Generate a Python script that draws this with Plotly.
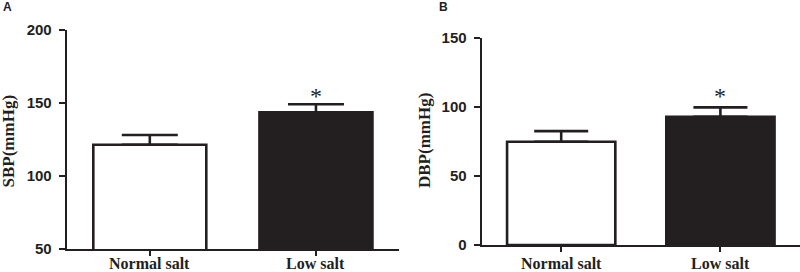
import plotly.graph_objects as go

categories = ["Normal salt", "Low salt"]
sbp_mean = [121.4, 143.6]
sbp_err = [6.7, 5.5]
dbp_mean = [74.7, 92.8]
dbp_err = [7.7, 6.8]
sbp_ticks = [50, 100, 150, 200]
dbp_ticks = [0, 50, 100, 150]
star_sbp = 157.5
star_dbp = 109.0

INK = "#231f20"
bar_colors = ["white", INK]

fig = go.Figure()
fig.add_trace(go.Bar(
    x=categories, y=sbp_mean, width=0.68,
    marker=dict(color=bar_colors, line=dict(color=INK, width=2.6)),
    error_y=dict(type="data", symmetric=False, array=sbp_err, arrayminus=[0, 0],
                 color=INK, thickness=2.6, width=28),
    xaxis="x", yaxis="y", showlegend=False))
fig.add_trace(go.Bar(
    x=categories, y=dbp_mean, width=0.68,
    marker=dict(color=bar_colors, line=dict(color=INK, width=2.6)),
    error_y=dict(type="data", symmetric=False, array=dbp_err, arrayminus=[0, 0],
                 color=INK, thickness=2.6, width=27),
    xaxis="x2", yaxis="y2", showlegend=False))

xcommon = dict(type="category", range=[-0.5, 1.5], showline=True, linecolor=INK, linewidth=2,
               ticks="outside", ticklen=5, tickwidth=1.5, tickcolor=INK, showgrid=False, zeroline=False,
               showticklabels=False, automargin=False)
ycommon = dict(showline=True, linecolor=INK, linewidth=2, ticks="outside", ticklen=6, tickwidth=1.5,
               tickcolor=INK, showgrid=False, zeroline=False, automargin=False, ticklabelstandoff=4,
               tickfont=dict(family="Liberation Sans", size=15, color=INK, weight="bold"))

fig.update_layout(
    width=800, height=272, margin=dict(l=0, r=0, t=0, b=0, autoexpand=False),
    paper_bgcolor="white", plot_bgcolor="white",
    xaxis=dict(domain=[0.0834, 0.4988], anchor="y", **xcommon),
    yaxis=dict(domain=[0.0846, 0.8897], anchor="x", range=[50, 200], tickvals=sbp_ticks, **ycommon),
    xaxis2=dict(domain=[0.602, 1.0], anchor="y2", **xcommon),
    yaxis2=dict(domain=[0.0993, 0.8614], anchor="x2", range=[0, 150], tickvals=dbp_ticks, **ycommon),
    bargap=0.3,
)

label_font = dict(family="Liberation Serif", size=16, color=INK, weight="bold")
ann = []
ann.append(dict(text="A", x=1 / 800, y=1.0, xref="paper", yref="paper", xanchor="left", yanchor="top",
                showarrow=False, font=dict(family="Liberation Sans", size=12, color=INK, weight="bold"),
                yshift=2))
ann.append(dict(text="B", x=443 / 800, y=1.0, xref="paper", yref="paper", xanchor="center", yanchor="top",
                showarrow=False, font=dict(family="Liberation Sans", size=12, color=INK, weight="bold"),
                yshift=2))
ann.append(dict(text="SBP(mmHg)", x=8 / 800, y=(272 - 141.5) / 272, xref="paper", yref="paper",
                textangle=-90, showarrow=False, xanchor="center", yanchor="middle",
                font=dict(family="Liberation Serif", size=17, color=INK, weight="bold")))
ann.append(dict(text="DBP(mmHg)", x=425 / 800, y=(272 - 141) / 272, xref="paper", yref="paper",
                textangle=-90, showarrow=False, xanchor="center", yanchor="middle",
                font=dict(family="Liberation Serif", size=17, color=INK, weight="bold")))
for xr, cat in [("x", c) for c in categories] + [("x2", c) for c in categories]:
    ann.append(dict(text=cat, x=cat, y=0, xref=xr, yref="paper", showarrow=False,
                    xanchor="center", yanchor="bottom", yshift=-2, font=label_font))
ann.append(dict(text="*", x=categories[1], y=star_sbp, xref="x", yref="y", showarrow=False,
                xanchor="center", yanchor="middle", yshift=-4,
                font=dict(family="Liberation Serif", size=24, color=INK)))
ann.append(dict(text="*", x=categories[1], y=star_dbp, xref="x2", yref="y2", showarrow=False,
                xanchor="center", yanchor="middle", yshift=-2,
                font=dict(family="Liberation Serif", size=24, color=INK)))
fig.update_layout(annotations=ann)

fig.write_html("out.html", config={"displayModeBar": False},
               post_script="document.body.style.margin='0px';")
